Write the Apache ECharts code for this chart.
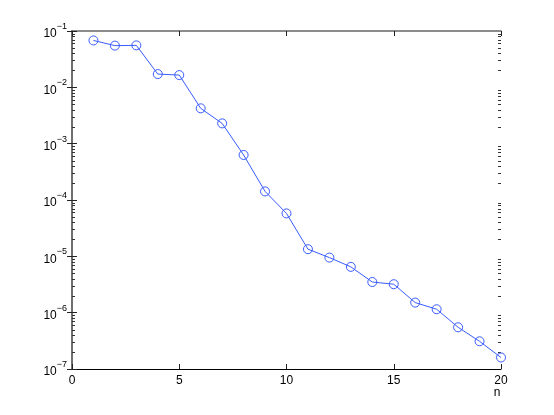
<!DOCTYPE html>
<html><head><meta charset="utf-8">
<script src="https://cdn.jsdelivr.net/npm/echarts@6/dist/echarts.min.js"></script>
<style>html,body{margin:0;padding:0;background:#fff}#c{width:554px;height:415px}</style>
</head><body><div id="c"></div>
<script>
var nValues = [1,2,3,4,5,6,7,8,9,10,11,12,13,14,15,16,17,18,19,20];
var errValues = [0.068,0.055,0.0556,0.0172,0.0165,0.00424,0.00229,0.00063,0.000142,0.0000578,
  0.0000134,0.0000095,0.0000065,0.0000035,0.0000032,0.00000151,0.00000115,0.00000055,0.00000031,0.00000016];
var xTicks = [0,5,10,15,20];
var minorTicks = [];
for (var e = -7; e <= -2; e++) { for (var d = 2; d <= 9; d++) { minorTicks.push(d * Math.pow(10, e)); } }

var font = 'Liberation Sans, Arial, Helvetica, sans-serif';
var chart = echarts.init(document.getElementById('c'));
var yAxisBase = {
  type: 'log', logBase: 10, min: 1e-7, max: 1e-1, interval: 1,
  axisLine: {show: true, lineStyle: {color: '#666', width: 1.5}},
  axisTick: {inside: true, length: 5, lineStyle: {color: '#222'}},
  splitLine: {show: false}
};
var option = {
  animation: false,
  backgroundColor: '#fff',
  grid: {left: 72, right: 53, top: 31, bottom: 46, containLabel: false},
  xAxis: [{
    type: 'value', min: 0, max: 20, interval: 5,
    axisLine: {onZero: false, lineStyle: {color: '#000', width: 1}},
    axisTick: {inside: true, length: 5, lineStyle: {color: '#222'}},
    splitLine: {show: false},
    axisLabel: {color: '#000', fontFamily: font, fontSize: 12, margin: 6,
      formatter: function (v) { return xTicks.indexOf(v) >= 0 ? String(v) : ''; }},
    name: 'n', nameLocation: 'end', nameGap: -4,
    nameTextStyle: {color: '#000', fontFamily: font, fontSize: 12, align: 'center', verticalAlign: 'top', padding: [18, 0, 0, 0]}
  }, {
    type: 'value', min: 0, max: 20, interval: 5, position: 'top',
    axisLine: {onZero: false, lineStyle: {color: '#666', width: 1.5}},
    axisTick: {inside: true, length: 5, lineStyle: {color: '#222'}},
    axisLabel: {show: false}, splitLine: {show: false}
  }],
  yAxis: [Object.assign({}, yAxisBase, {
    position: 'left',
    axisLabel: {color: '#000', fontFamily: font, fontSize: 12, margin: 5,
      formatter: function (v) {
        var ex = Math.round(Math.log10(v));
        return '{b|10}{s|' + String(ex).replace('-', '\u2212') + '}';
      },
      rich: {
        b: {fontFamily: font, fontSize: 12, color: '#000', padding: [6, 0, 0, 0]},
        s: {fontFamily: font, fontSize: 9, color: '#000', verticalAlign: 'top', padding: [0, 0, 8, 0]}
      }
    }
  }), Object.assign({}, yAxisBase, {position: 'right', axisLabel: {show: false}})],
  series: [{
    type: 'custom',
    xAxisIndex: 0, yAxisIndex: 0,
    data: minorTicks.map(function (v) { return [10, v]; }),
    silent: true, clip: false, z: 5,
    encode: {x: 0, y: 1},
    renderItem: function (params, api) {
      var p = api.coord([api.value(0), api.value(1)]);
      var cs = params.coordSys;
      var xl = cs.x, xr = cs.x + cs.width;
      var y = Math.round(p[1]);
      return {type: 'group', children: [
        {type: 'rect', shape: {x: xl, y: y, width: 3, height: 1}, style: {fill: '#333'}},
        {type: 'rect', shape: {x: xr - 3, y: y, width: 3, height: 1}, style: {fill: '#333'}}
      ]};
    }
  }, {
    type: 'line',
    xAxisIndex: 0, yAxisIndex: 0,
    data: nValues.map(function (n, i) { return [n, errValues[i]]; }),
    symbol: 'circle', symbolSize: 9,
    itemStyle: {color: 'transparent', borderColor: '#3a5cff', borderWidth: 1},
    lineStyle: {color: '#3a5cff', width: 1},
    clip: false, z: 6
  }]
};
chart.setOption(option);
</script>
</body></html>
